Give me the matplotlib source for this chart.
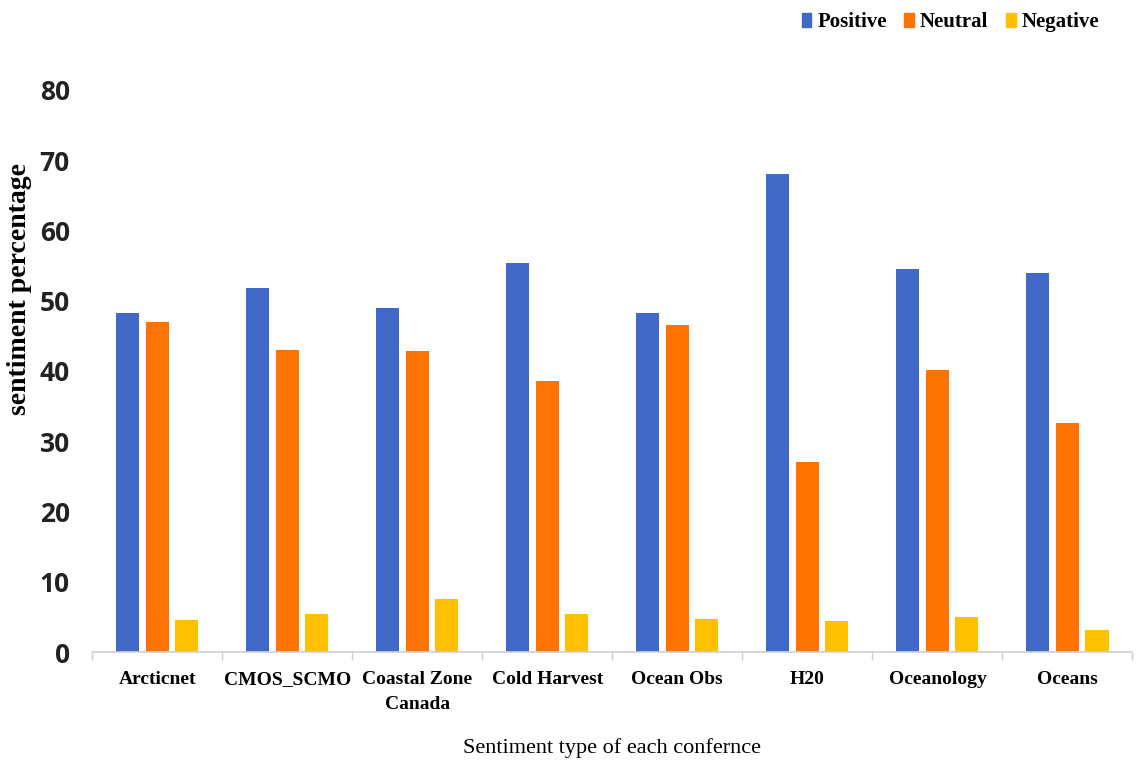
import numpy as np
import matplotlib
matplotlib.use("Agg")
import matplotlib.pyplot as plt
from matplotlib.patches import Patch

# conference names and sentiment shares (%)
conferences = ['Arcticnet', 'CMOS_SCMO', 'Coastal Zone\nCanada', 'Cold Harvest',
               'Ocean Obs', 'H20', 'Oceanology', 'Oceans']
positive = [48.3, 51.8, 48.9, 55.4, 48.2, 68.0, 54.5, 53.9]
neutral = [47.0, 43.0, 42.8, 38.6, 46.6, 27.0, 40.1, 32.6]
negative = [4.5, 5.4, 7.5, 5.4, 4.7, 4.4, 5.0, 3.1]

series_names = ['Positive', 'Neutral', 'Negative']
colors = ['#4169C8', '#FF7300', '#FFC000']

fig = plt.figure(figsize=(11.37, 7.68), dpi=100)
ax = fig.add_axes([0.081, 0.151, 0.915, 0.732])

x = np.arange(len(conferences))
step = 0.227
width = 0.178
for i, (vals, color) in enumerate(zip([positive, neutral, negative], colors)):
    ax.bar(x + (i - 1) * step, vals, width=width, color=color, label=series_names[i])

ax.set_xlim(-0.5, len(conferences) - 0.5)
ax.set_ylim(0, 80)
ax.set_yticks(range(0, 81, 10))
ax.tick_params(axis='y', length=0, pad=16)
for lab in ax.get_yticklabels():
    lab.set_fontfamily('Open Sans')
    lab.set_fontweight('bold')
    lab.set_fontsize(19)
    lab.set_color('#222222')

# category labels, with small separator ticks between groups
ax.set_xticks(x)
ax.set_xticklabels(conferences, fontfamily='Liberation Serif', fontweight='bold',
                   fontsize=14, linespacing=1.55)
ax.tick_params(axis='x', which='major', length=0, pad=14)
ax.set_xticks(np.arange(-0.5, len(conferences)), minor=True)
ax.tick_params(axis='x', which='minor', length=6, color='#cccccc', width=1)

for side in ['top', 'right', 'left']:
    ax.spines[side].set_visible(False)
ax.spines['bottom'].set_color('#d0d0d0')
ax.spines['bottom'].set_linewidth(1.2)

ax.set_ylabel('sentiment percentage', fontfamily='Liberation Serif', fontweight='bold',
              fontsize=20)
ax.yaxis.set_label_coords(-0.058, 0.645)
ax.set_xlabel('Sentiment type of each confernce', fontfamily='Liberation Serif',
              fontsize=16, va='center')
ax.xaxis.set_label_coords(0.5, -0.17)

handles = [Patch(color=c) for c in colors]
fig.legend(handles, series_names, loc='center', bbox_to_anchor=(0.836, 0.971), ncol=3,
           frameon=False, handlelength=0.45, handleheight=0.7, handletextpad=0.3,
           columnspacing=0.85, prop={'family': 'Liberation Serif', 'weight': 'bold', 'size': 15})

fig.savefig('out.png', dpi=100)
